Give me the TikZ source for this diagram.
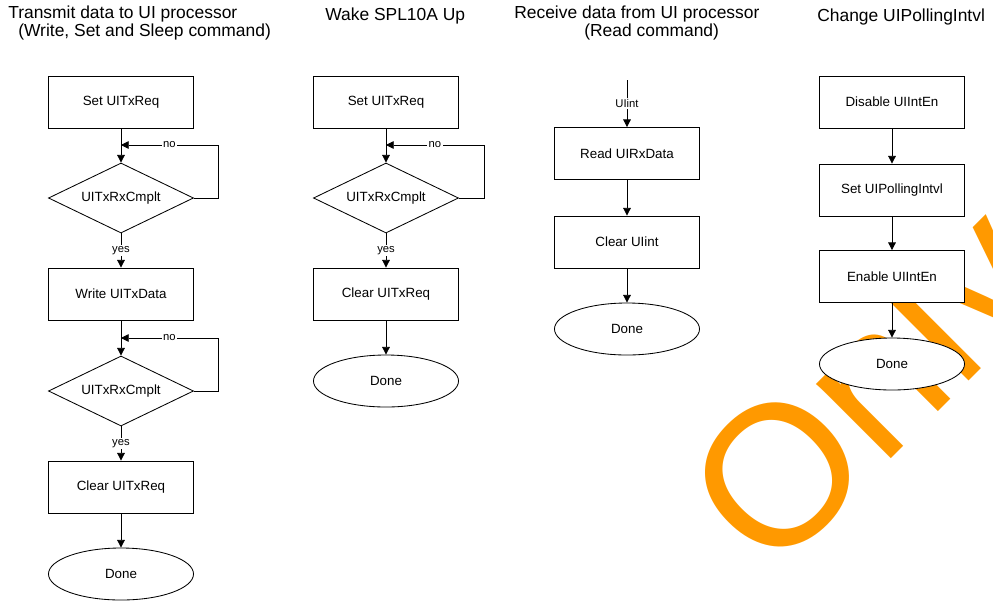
\documentclass[tikz,border=0pt]{standalone}
\usepackage{fontspec}
\setmainfont{Liberation Sans}
\usetikzlibrary{arrows.meta,positioning,shapes.geometric}
\definecolor{wmorange}{RGB}{255,153,0}

\begin{document}
\begin{tikzpicture}[
  x=0.025cm, y=-0.025cm,
  font=\fontsize{9.5}{11}\selectfont,
  >={Triangle[width=5.5pt,length=5.5pt]},
  ttl/.style={anchor=west, font=\fontsize{12.4}{12.8}\selectfont, align=left, inner sep=0pt},
  procbox/.style={draw, fill=white, minimum width=3.625cm, minimum height=1.3cm, inner sep=2pt, line width=0.6pt},
  testbox/.style={draw, fill=white, diamond, aspect=2, minimum width=3.625cm, minimum height=1.75cm, inner sep=1pt, line width=0.6pt},
  endbox/.style={draw, fill=white, ellipse, minimum width=3.625cm, minimum height=1.3cm, line width=0.6pt},
  lbl/.style={fill=white, font=\fontsize{8}{9}\selectfont, inner sep=1pt},
  arr/.style={->, line width=0.6pt}
]
\useasboundingbox (0,0) rectangle (993,601);
% watermark
\begin{scope}
\clip (0,0) rectangle (993,601);
\node[anchor=base west, rotate=45, text=wmorange, inner sep=0pt, font=\fontsize{142}{142}\selectfont] (wm) at (771,579) {Only};
\end{scope}

% titles
\node[ttl] (t1) at (8,23) {Transmit data to UI processor\\\hspace*{0.25cm}(Write, Set and Sleep command)};
\node[ttl] (t2) at (325,16) {Wake SPL10A Up};
\node[ttl] (t3) at (514,23) {Receive data from UI processor\\\hspace*{1.75cm}(Read command)};
\node[ttl] (t4) at (817,17) {Change UIPollingIntvl};

% transmit
\node[procbox] (a1) at (121,102) {Set UITxReq};
\node[testbox] (a2) at (121,198) {UITxRxCmplt};
\node[procbox] (a3) at (121,294) {Write UITxData};
\node[testbox] (a4) at (121,391) {UITxRxCmplt};
\node[procbox] (a5) at (121,487) {Clear UITxReq};
\node[endbox] (a6) at (121,574) {Done};
\coordinate (a2j) at (121,145);
\coordinate (a4j) at (121,338);
\draw[arr] (a1) -- (a2);
\draw[arr] (a2.east) -- ++(24,0) |- node[lbl, pos=0.75] {no} (a2j);
\draw[arr] (a2.south) -- node[lbl] {yes} (a3.north);
\draw[arr] (a3) -- (a4);
\draw[arr] (a4.east) -- ++(24,0) |- node[lbl, pos=0.75] {no} (a4j);
\draw[arr] (a4.south) -- node[lbl] {yes} (a5.north);
\draw[arr] (a5) -- (a6);

% wake up
\node[procbox] (b1) at (386,102) {Set UITxReq};
\node[testbox] (b2) at (386,198) {UITxRxCmplt};
\node[procbox] (b3) at (386,294) {Clear UITxReq};
\node[endbox] (b4) at (386,381) {Done};
\coordinate (b2j) at (386,145);
\draw[arr] (b1) -- (b2);
\draw[arr] (b2.east) -- ++(25,0) |- node[lbl, pos=0.75] {no} (b2j);
\draw[arr] (b2.south) -- node[lbl] {yes} (b3.north);
\draw[arr] (b3) -- (b4);

% receive
\coordinate (c0) at (627,80);
\node[procbox] (c1) at (627,153.5) {Read UIRxData};
\node[procbox] (c2) at (627,242) {Clear UIint};
\node[endbox] (c3) at (627,329) {Done};
\draw[arr] (c0) -- node[lbl] {UIint} (c1);
\draw[arr] (c1) -- (c2);
\draw[arr] (c2) -- (c3);

% polling interval
\node[procbox] (d1) at (892,102) {Disable UIIntEn};
\node[procbox] (d2) at (892,190) {Set UIPollingIntvl};
\node[procbox] (d3) at (892,276.5) {Enable UIIntEn};
\node[endbox] (d4) at (892,364) {Done};
\draw[arr] (d1) -- (d2);
\draw[arr] (d2) -- (d3);
\draw[arr] (d3) -- (d4);
\end{tikzpicture}
\end{document}
